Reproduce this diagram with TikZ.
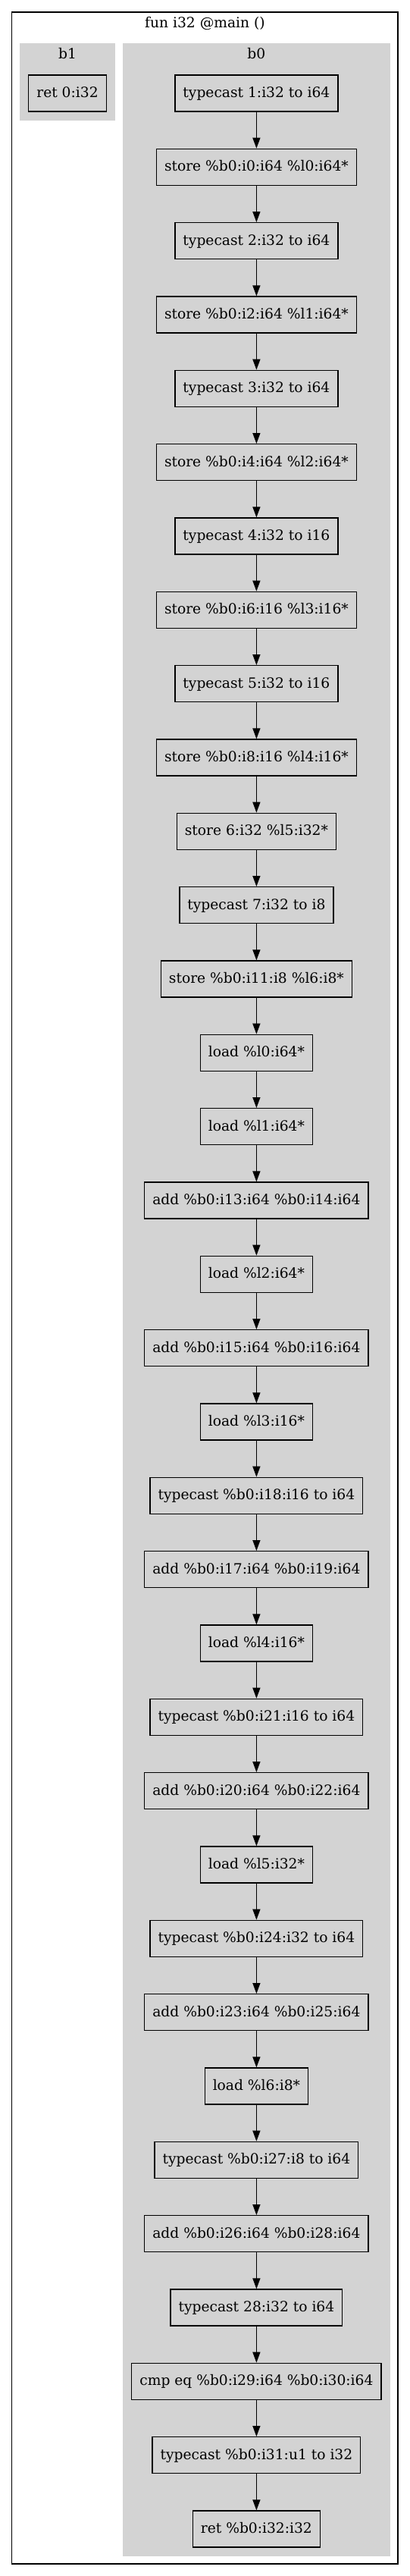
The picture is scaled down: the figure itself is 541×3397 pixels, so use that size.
\documentclass[tikz,border=0pt]{standalone}
\usepackage{fontspec}
\setmainfont{DejaVu Serif}
\usepackage{tikz}
\usetikzlibrary{arrows.meta,positioning}

\definecolor{clustergray}{HTML}{D3D3D3}

\begin{document}
\begin{tikzpicture}[x=0.75pt,y=-0.75pt,>={Triangle[length=10.5pt,width=7.5pt]},line width=1pt,
    node distance=36pt,
    instr/.style={draw,rectangle,minimum height=36pt,inner xsep=7.92pt,text height=11pt,text depth=3pt,font=\fontsize{14pt}{17pt}\selectfont},
    caption/.style={anchor=base,inner sep=0pt,font=\fontsize{14pt}{17pt}\selectfont}]
        \useasboundingbox (0,0) rectangle (541,3397);
        % clusters
        \draw (15.5,16) rectangle (525,3381);
        \fill[clustergray] (25.9,56.7) rectangle (152.4,159.3);
        \fill[clustergray] (162,56.7) rectangle (515,3370.7);
        \node [caption] (fun) at (270.5,36.5) {fun i32 @main ()};
        \node [caption] (lb1) at (89,77.5) {b1};
        \node [caption] (lb0) at (338.4,77.5) {b0};
        % b1
        \node [instr] (r0) at (89,123) {ret 0:i32};
        % b0
        \node [instr] (n0) at (338.4,123) {typecast 1:i32 to i64};
        \node [instr, below=of n0] (n1) {store \%b0:i0:i64 \%l0:i64*};
        \node [instr, below=of n1] (n2) {typecast 2:i32 to i64};
        \node [instr, below=of n2] (n3) {store \%b0:i2:i64 \%l1:i64*};
        \node [instr, below=of n3] (n4) {typecast 3:i32 to i64};
        \node [instr, below=of n4] (n5) {store \%b0:i4:i64 \%l2:i64*};
        \node [instr, below=of n5] (n6) {typecast 4:i32 to i16};
        \node [instr, below=of n6] (n7) {store \%b0:i6:i16 \%l3:i16*};
        \node [instr, below=of n7] (n8) {typecast 5:i32 to i16};
        \node [instr, below=of n8] (n9) {store \%b0:i8:i16 \%l4:i16*};
        \node [instr, below=of n9] (n10) {store 6:i32 \%l5:i32*};
        \node [instr, below=of n10] (n11) {typecast 7:i32 to i8};
        \node [instr, below=of n11] (n12) {store \%b0:i11:i8 \%l6:i8*};
        \node [instr, below=of n12] (n13) {load \%l0:i64*};
        \node [instr, below=of n13] (n14) {load \%l1:i64*};
        \node [instr, below=of n14] (n15) {add \%b0:i13:i64 \%b0:i14:i64};
        \node [instr, below=of n15] (n16) {load \%l2:i64*};
        \node [instr, below=of n16] (n17) {add \%b0:i15:i64 \%b0:i16:i64};
        \node [instr, below=of n17] (n18) {load \%l3:i16*};
        \node [instr, below=of n18] (n19) {typecast \%b0:i18:i16 to i64};
        \node [instr, below=of n19] (n20) {add \%b0:i17:i64 \%b0:i19:i64};
        \node [instr, below=of n20] (n21) {load \%l4:i16*};
        \node [instr, below=of n21] (n22) {typecast \%b0:i21:i16 to i64};
        \node [instr, below=of n22] (n23) {add \%b0:i20:i64 \%b0:i22:i64};
        \node [instr, below=of n23] (n24) {load \%l5:i32*};
        \node [instr, below=of n24] (n25) {typecast \%b0:i24:i32 to i64};
        \node [instr, below=of n25] (n26) {add \%b0:i23:i64 \%b0:i25:i64};
        \node [instr, below=of n26] (n27) {load \%l6:i8*};
        \node [instr, below=of n27] (n28) {typecast \%b0:i27:i8 to i64};
        \node [instr, below=of n28] (n29) {add \%b0:i26:i64 \%b0:i28:i64};
        \node [instr, below=of n29] (n30) {typecast 28:i32 to i64};
        \node [instr, below=of n30] (n31) {cmp eq \%b0:i29:i64 \%b0:i30:i64};
        \node [instr, below=of n31] (n32) {typecast \%b0:i31:u1 to i32};
        \node [instr, below=of n32] (n33) {ret \%b0:i32:i32};
        % edges
        \foreach \i [count=\j] in {0,...,32}
          \draw [->] (n\i) -- (n\j);
\end{tikzpicture}
\end{document}
